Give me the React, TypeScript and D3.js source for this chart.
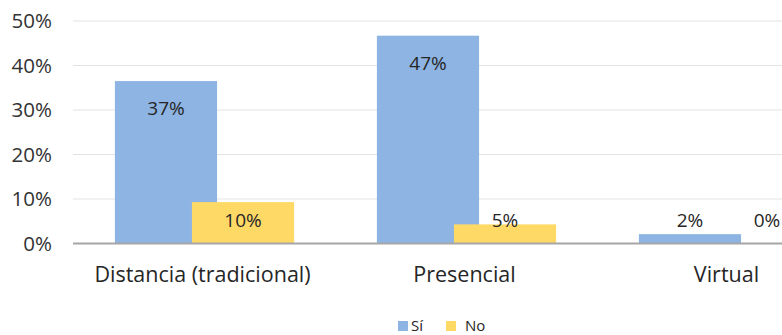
import React from "react";
import * as d3 from "d3";

const categories = ["Distancia (tradicional)", "Presencial", "Virtual"];
const seriesNames = ["Sí", "No"];
const siValues = [0.365, 0.467, 0.021];
const noValues = [0.093, 0.043, 0];
const siLabels = ["37%", "47%", "2%"];
const noLabels = ["10%", "5%", "0%"];
const yTicks = [0, 0.1, 0.2, 0.3, 0.4, 0.5];
const colors = ["#8DB4E2", "#FFD966"];

const W = 782;
const H = 335;
const FONT = "'Open Sans', sans-serif";

export default function App() {
  const x = d3.scaleBand<string>().domain(categories).range([73.5, 73.5 + 3 * 262]).padding(0);
  const y = d3.scaleLinear().domain([0, 0.5]).range([243.5, 21]);
  const bw = x.bandwidth();
  const barW = bw * 0.39;
  const offset = bw * 0.294;
  const fmt = d3.format(".0%");
  const series = [siValues, noValues];
  const labels = [siLabels, noLabels];

  return (
    <svg width={W} height={H} style={{ position: "absolute", left: 0, top: 0 }} fontFamily={FONT}>
      <rect width={W} height={H} fill="#fff" />
      {yTicks.slice(1).map((t) => (
        <line key={t} x1={73} x2={W} y1={y(t)} y2={y(t)} stroke="#E3E3E3" strokeWidth={1.2} />
      ))}
      {yTicks.map((t) => (
        <text key={t} x={52} y={y(t)} dy="0.36em" textAnchor="end" fontSize={20.5} fill="#333">
          {fmt(t)}
        </text>
      ))}
      {categories.map((c, i) => {
        const c0 = (x(c) as number) + bw / 2 - (barW + offset) / 2;
        return (
          <g key={c}>
            {series.map((vals, s) => {
              const bx = c0 + s * offset;
              const top = y(vals[i]);
              return (
                <rect key={s} x={bx} y={top} width={barW} height={y(0) - top} fill={colors[s]} />
              );
            })}
            {series.map((vals, s) => {
              const bx = c0 + s * offset;
              const top = y(vals[i]);
              const ly = Math.min(top + 27, 220);
              return (
                <text key={"l" + s} x={bx + barW / 2} y={ly} dy="0.36em" textAnchor="middle" fontSize={19} fill="#262626">
                  {labels[s][i]}
                </text>
              );
            })}
            <text x={(x(c) as number) + bw / 2 - 2} y={282} textAnchor="middle" fontSize={21.5} fill="#262626">
              {c}
            </text>
          </g>
        );
      })}
      <line x1={73} x2={W} y1={y(0)} y2={y(0)} stroke="#A6A6A6" strokeWidth={2} />
      <g>
        <rect x={398} y={321} width={10} height={10} fill={colors[0]} />
        <text x={411} y={330.5} fontSize={15} fill="#262626">{seriesNames[0]}</text>
        <rect x={446} y={321} width={10} height={10} fill={colors[1]} />
        <text x={465} y={330.5} fontSize={15} fill="#262626">{seriesNames[1]}</text>
      </g>
    </svg>
  );
}
